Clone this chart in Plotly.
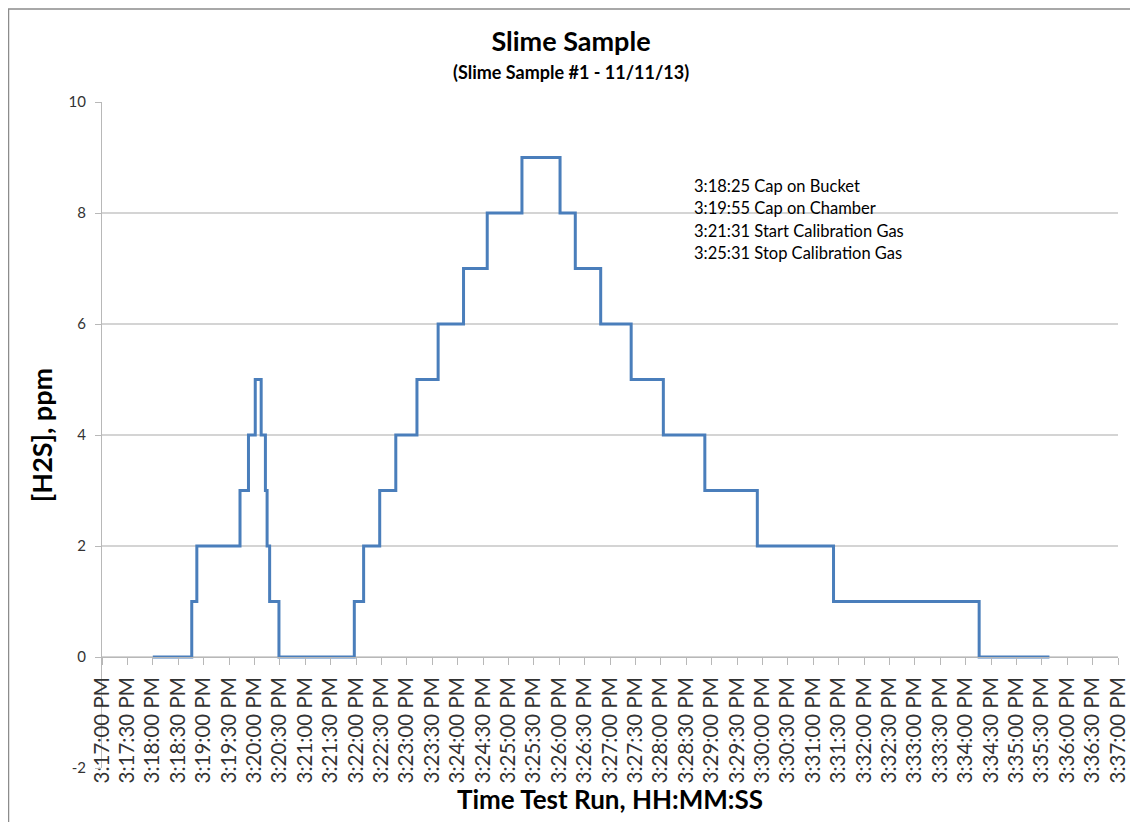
import plotly.graph_objects as go

# ---- data ----
change_times = [
    "15:18:00", "15:18:46", "15:18:52", "15:19:43", "15:19:53", "15:20:01",
    "15:20:08", "15:20:13", "15:20:15", "15:20:18", "15:20:29", "15:21:58",
    "15:22:09", "15:22:28", "15:22:47", "15:23:12", "15:23:37", "15:24:07",
    "15:24:35", "15:25:16", "15:26:01", "15:26:19", "15:26:49", "15:27:25",
    "15:28:03", "15:28:52", "15:29:54", "15:31:24", "15:34:16", "15:35:39",
]
h2s_ppm = [
    0, 1, 2, 3, 4, 5,
    4, 3, 2, 1, 0, 1,
    2, 3, 4, 5, 6, 7,
    8, 9, 8, 7, 6, 5,
    4, 3, 2, 1, 0, 0,
]
notes = [
    "3:18:25 Cap on Bucket",
    "3:19:55 Cap on Chamber",
    "3:21:31 Start Calibration Gas",
    "3:25:31 Stop Calibration Gas",
]
date = "2013-11-11 "
x_start, x_end = "15:17:00", "15:37:00"
y_ticks = [-2, 0, 2, 4, 6, 8, 10]

title_text = "Slime Sample"
subtitle_text = "(Slime Sample #1 - 11/11/13)"
x_title = "Time Test Run, HH:MM:SS"
y_title = "[H2S], ppm"

# ---- layout geometry (page body adds an 8px offset) ----
OFF = 8
W, H = 1138 - OFF, 822 - OFF
L, R, T, B = 102 - OFF, 1118 - OFF, 102 - OFF, 768 - OFF
pw, ph = R - L, B - T
def px(p):  # p = pixel in the reference image
    return (p - OFF - L) / pw
def py(p):
    return (B - (p - OFF)) / ph

FONT = "Lato"
GRID = "#d4d4d4"
AXIS = "#b8b8b8"
TXT = "#333333"
y_min, y_max = y_ticks[0], y_ticks[-1]

fig = go.Figure()
fig.add_trace(go.Scatter(
    x=[date + t for t in change_times],
    y=h2s_ppm,
    mode="lines",
    line=dict(color="#4A7EBB", width=3, shape="hv"),
    showlegend=False,
))

fig.update_layout(
    width=W, height=H,
    margin=dict(l=L, r=W - R, t=T, b=H - B, autoexpand=False),
    paper_bgcolor="white", plot_bgcolor="white",
    font=dict(family=FONT, color=TXT),
    title=dict(
        text="<b>" + title_text + "</b>",
        x=px(571), xref="paper", xanchor="center",
        y=1 - (42 - OFF) / H, yref="container", yanchor="middle",
        font=dict(family=FONT, size=27, color="#000000"),
    ),
    xaxis=dict(
        type="date",
        range=[date + x_start, date + x_end],
        tick0=date + x_start, dtick=30000,
        tickformat="%-I:%M:%S %p",
        tickangle=-90,
        tickfont=dict(family=FONT, size=20.5, color=TXT),
        ticks="outside", ticklen=7, tickcolor=AXIS, tickwidth=1,
        ticklabelstandoff=4,
        showline=True, linecolor=AXIS, linewidth=1,
        showgrid=False, zeroline=False,
        anchor="free", position=(0 - y_min) / (y_max - y_min),
        title=dict(text="<b>" + x_title + "</b>",
                   font=dict(family=FONT, size=26, color="#000000"),
                   standoff=0),
    ),
    yaxis=dict(
        range=[y_min, y_max],
        tickvals=y_ticks, ticktext=[str(v) for v in y_ticks],
        tickfont=dict(family=FONT, size=15, color=TXT),
        ticks="outside", ticklen=6, tickcolor=AXIS,
        ticklabelstandoff=6,
        showline=True, linecolor=AXIS, linewidth=1,
        showgrid=True, gridcolor=GRID, gridwidth=1.5,
        zeroline=False,
        title=dict(text="<b>" + y_title + "</b>",
                   font=dict(family=FONT, size=27, color="#000000"),
                   standoff=8),
    ),
)

# subtitle
fig.add_annotation(
    text="<b>" + subtitle_text + "</b>",
    xref="paper", yref="paper", x=px(571), y=py(72),
    xanchor="center", yanchor="middle", showarrow=False,
    font=dict(family=FONT, size=18, color="#000000"),
)

# event notes
for i, note in enumerate(notes):
    fig.add_annotation(
        text=note, xref="paper", yref="paper",
        x=px(692), y=py(186 + i * 22.3),
        xanchor="left", yanchor="middle", showarrow=False,
        font=dict(family=FONT, size=16.5, color="#000000"),
    )

# chart-area frame
fig.add_shape(type="rect", xref="paper", yref="paper",
              x0=px(8.5), x1=px(1137), y0=py(840), y1=py(9),
              line=dict(color="#8c8c8c", width=1.5), layer="below")

fig.write_html("out.html")
